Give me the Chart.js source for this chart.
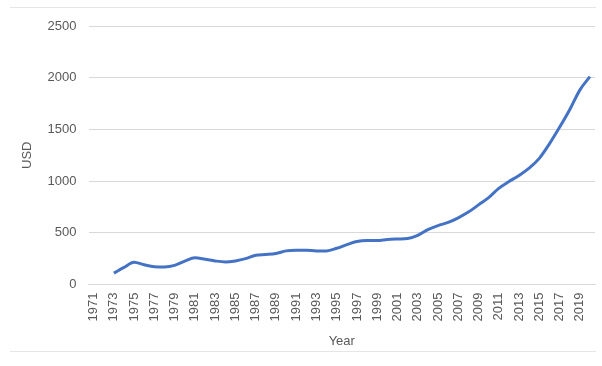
<!DOCTYPE html>
<html>
<head>
<meta charset="utf-8">
<script src="https://cdn.jsdelivr.net/npm/chart.js@4/dist/chart.umd.min.js"></script>
<style>
    html, body { margin: 0; padding: 0; background: #fff; }
    .frame { position: relative; width: 602px; height: 366px; }
    .frame .edge { position: absolute; left: 10px; right: 6px; height: 1px; background: #e6e6e6; }
    .frame .edge.top { top: 7px; }
    .frame .edge.bottom { top: 351px; }
    canvas { position: absolute; left: 0; top: 0; }
</style>
</head>
<body>
<div class="frame">
    <canvas id="usdChart" width="602" height="366"></canvas>
    <div class="edge top"></div>
    <div class="edge bottom"></div>
</div>
<script>
// yearly values in USD, 1971-2020 (no data for the first two years)
const years = [];
for (let y = 1971; y <= 2020; y++) years.push(String(y));

const usdValues = [
    null, null, 110, 165, 215, 190, 172, 170, 185, 225,
    258, 245, 228, 218, 228, 250, 283, 290, 300, 325,
    330, 330, 325, 325, 350, 385, 415, 425, 425, 435,
    440, 445, 475, 530, 570, 600, 645, 700, 770, 840,
    930, 995, 1055, 1125, 1220, 1360, 1520, 1690, 1880, 2010
];

const yTicks = [0, 500, 1000, 1500, 2000, 2500];

const textColor = '#595959';
const gridColor = '#d9d9d9';
const baseFont = { family: '"Liberation Sans", Arial, sans-serif', size: 13 };

document.addEventListener('DOMContentLoaded', function () {
    drawUsdChart();
});

function drawUsdChart() {
    const ctx = document.getElementById('usdChart').getContext('2d');
    new Chart(ctx, {
        type: 'line',
        data: {
            labels: years,
            datasets: [{
                label: 'USD',
                data: usdValues,
                borderColor: '#4472C4',
                borderWidth: 3,
                pointRadius: 0,
                tension: 0.4,
                cubicInterpolationMode: 'monotone',
                fill: false
            }]
        },
        options: {
            responsive: false,
            animation: false,
            layout: { padding: { top: 26, right: 7, bottom: 17, left: 20 } },
            plugins: {
                legend: { display: false },
                tooltip: { enabled: false }
            },
            scales: {
                x: {
                    offset: true,
                    grid: { display: false, drawTicks: false },
                    border: { display: true, color: gridColor },
                    // the rotated end labels don't need extra side room
                    afterFit: axis => {
                        axis.paddingLeft = 0;
                        axis.paddingRight = 0;
                    },
                    ticks: {
                        color: textColor,
                        font: baseFont,
                        autoSkip: false,
                        minRotation: 90,
                        maxRotation: 90,
                        padding: 8,
                        callback: function (value, index) {
                            return index % 2 === 0 ? this.getLabelForValue(value) : '';
                        }
                    },
                    title: {
                        display: true,
                        text: 'Year',
                        color: textColor,
                        font: baseFont,
                        padding: { top: 4, bottom: 0 }
                    }
                },
                y: {
                    min: 0,
                    max: 2500,
                    afterBuildTicks: axis => {
                        axis.ticks = yTicks.map(v => ({ value: v }));
                    },
                    grid: { color: gridColor, drawTicks: false },
                    border: { display: false },
                    ticks: {
                        color: textColor,
                        font: baseFont,
                        padding: 12,
                        callback: value => String(value)
                    },
                    title: {
                        display: true,
                        text: 'USD',
                        color: textColor,
                        font: baseFont,
                        padding: { top: 0, bottom: 0 }
                    }
                }
            }
        }
    });
}
</script>
</body>
</html>
